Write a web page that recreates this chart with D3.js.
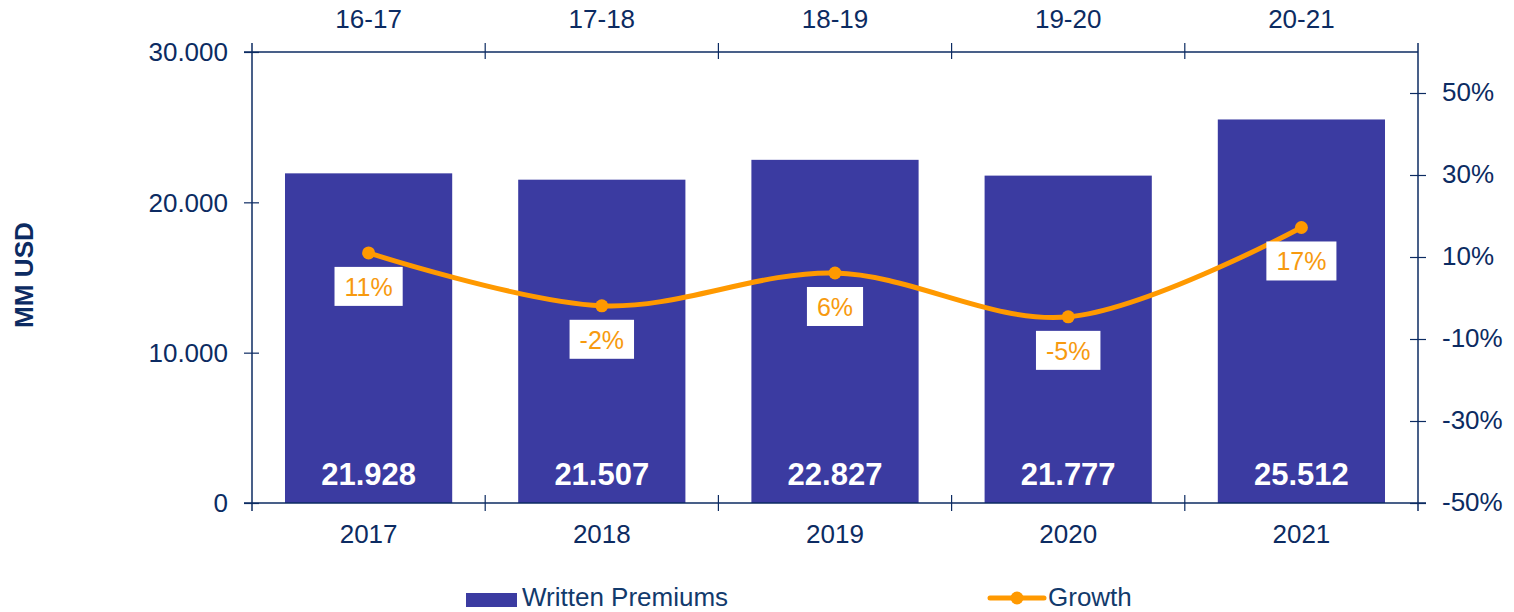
<!DOCTYPE html>
<html>
<head>
<meta charset="utf-8">
<script src="https://cdn.jsdelivr.net/npm/d3@7"></script>
<style>
  html, body { margin: 0; padding: 0; background: #fff; }
  svg { display: block; font-family: "Liberation Sans", Arial, sans-serif; }
</style>
</head>
<body>
<svg id="chart" width="1514" height="612"></svg>
<script>
// ---- data ----
const years = ["2017", "2018", "2019", "2020", "2021"];
const periods = ["16-17", "17-18", "18-19", "19-20", "20-21"];
const premiums = [21928, 21507, 22827, 21777, 25512];
const growth = [0.11, -0.019, 0.061, -0.046, 0.172];
const growthLabels = ["11%", "-2%", "6%", "-5%", "17%"];
const leftTicks = [0, 10000, 20000, 30000];
const rightTicks = [-0.5, -0.3, -0.1, 0.1, 0.3, 0.5];

// ---- styling ----
const navy = "#0c2b62";
const barColor = "#3b3ba1";
const orange = "#ff9900";
const labelOrange = "#f79a0f";

const svg = d3.select("#chart");
const L = 252, R = 1418, T = 52, B = 503;

const pad = 0.283;
const x = d3.scaleBand().domain(years).range([L, R]).paddingInner(pad).paddingOuter(pad / 2);
const xTop = d3.scaleBand().domain(periods).range([L, R]).paddingInner(pad).paddingOuter(pad / 2);
const y = d3.scaleLinear().domain([0, 30000]).range([B, T]);
const yR = d3.scaleLinear().domain([-0.5, 0.6]).range([B, T]);

const loc = d3.formatLocale({ decimal: ",", thousands: ".", grouping: [3], currency: ["", ""] });
const fmtThousands = loc.format(",");

// bars
svg.append("g").selectAll("rect").data(years).join("rect")
  .attr("x", d => x(d))
  .attr("y", (d, i) => y(premiums[i]))
  .attr("width", x.bandwidth())
  .attr("height", (d, i) => y(0) - y(premiums[i]))
  .attr("fill", barColor);

// bar value labels
svg.append("g").selectAll("text").data(years).join("text")
  .attr("x", d => x(d) + x.bandwidth() / 2)
  .attr("y", y(0) - 18)
  .attr("text-anchor", "middle")
  .attr("fill", "#fff")
  .attr("font-weight", "bold")
  .attr("font-size", 31)
  .text((d, i) => fmtThousands(premiums[i]));

// ---- axes ----
const axisStyle = g => {
  g.selectAll(".domain").remove();
  g.selectAll("line").attr("stroke", navy).attr("stroke-width", 1.2);
  g.selectAll("text").attr("fill", navy).attr("font-size", 26)
    .attr("font-family", "'Liberation Sans', Arial, sans-serif");
};

// frame lines
const frame = svg.append("g").attr("stroke", navy).attr("stroke-width", 1.5);
frame.append("line").attr("x1", L).attr("x2", L).attr("y1", T - 9).attr("y2", B + 8);
frame.append("line").attr("x1", R).attr("x2", R).attr("y1", T - 9).attr("y2", B + 8);
frame.append("line").attr("x1", L - 8).attr("x2", R).attr("y1", T).attr("y2", T);
frame.append("line").attr("x1", L - 8).attr("x2", R + 8).attr("y1", B).attr("y2", B);

// left axis
const gL = svg.append("g").attr("transform", `translate(${L},0)`)
  .call(d3.axisLeft(y).tickValues(leftTicks).tickFormat(fmtThousands).tickSize(8).tickPadding(16))
  .call(axisStyle);
gL.selectAll(".tick line").attr("x1", 7);
gL.selectAll(".tick text").attr("dy", "0.34em");

// right axis
const gR = svg.append("g").attr("transform", `translate(${R},0)`)
  .call(d3.axisRight(yR).tickValues(rightTicks).tickFormat(d => Math.round(d * 100) + "%").tickSize(8).tickPadding(16))
  .call(axisStyle);
gR.selectAll(".tick line").attr("x1", -8);
gR.selectAll(".tick text").attr("dy", "0.3em");

// bottom axis (labels only) + boundary ticks
const gB = svg.append("g").attr("transform", `translate(0,${B})`)
  .call(d3.axisBottom(x).tickSize(0).tickPadding(22))
  .call(axisStyle);
gB.selectAll(".tick text").attr("dy", "0.71em");

const gT = svg.append("g").attr("transform", `translate(0,${T})`)
  .call(d3.axisTop(xTop).tickSize(0).tickPadding(24))
  .call(axisStyle);

const bounds = years.slice(1).map(d => x(d) - x.step() * pad / 2);
const bt = svg.append("g").attr("stroke", navy).attr("stroke-width", 1.2);
bt.selectAll(".b").data(bounds).join("line")
  .attr("x1", d => d).attr("x2", d => d).attr("y1", B - 8).attr("y2", B + 8);
bt.selectAll(".t").data(bounds).join("line")
  .attr("x1", d => d).attr("x2", d => d).attr("y1", T - 9).attr("y2", T + 7);

// y title
svg.append("text")
  .attr("transform", "translate(33,275) rotate(-90)")
  .attr("text-anchor", "middle")
  .attr("fill", navy)
  .attr("font-weight", "bold")
  .attr("font-size", 25)
  .attr("textLength", 106)
  .attr("lengthAdjust", "spacingAndGlyphs")
  .text("MM USD");

// ---- growth line ----
const cx = i => x(years[i]) + x.bandwidth() / 2;
const line = d3.line().x((d, i) => cx(i)).y(d => yR(d)).curve(d3.curveCatmullRom.alpha(0.5));
svg.append("path").datum(growth)
  .attr("d", line)
  .attr("fill", "none")
  .attr("stroke", orange)
  .attr("stroke-width", 5)
  .attr("stroke-linecap", "round");
svg.append("g").selectAll("circle").data(growth).join("circle")
  .attr("cx", (d, i) => cx(i))
  .attr("cy", d => yR(d))
  .attr("r", 6.5)
  .attr("fill", orange);

// growth labels
const gl = svg.append("g").selectAll("g").data(growth).join("g");
gl.each(function (d, i) {
  const g = d3.select(this);
  const px = cx(i), py = yR(d);
  const rect = g.append("rect").attr("fill", "#fff");
  const t = g.append("text")
    .attr("x", px).attr("y", py + 14 + 29)
    .attr("text-anchor", "middle")
    .attr("fill", labelOrange)
    .attr("font-size", 25)
    .text(growthLabels[i]);
  const w = t.node().getComputedTextLength() + 20;
  rect.attr("x", px - w / 2).attr("y", py + 14).attr("width", w).attr("height", 39);
});

// ---- legend ----
const leg = svg.append("g");
leg.append("rect").attr("x", 466).attr("y", 593).attr("width", 51).attr("height", 14).attr("fill", barColor);
leg.append("text").attr("x", 522).attr("y", 606).attr("fill", "#123a6c").attr("font-size", 26).text("Written Premiums");
leg.append("line").attr("x1", 990).attr("x2", 1044).attr("y1", 598).attr("y2", 598)
  .attr("stroke", orange).attr("stroke-width", 5).attr("stroke-linecap", "round");
leg.append("circle").attr("cx", 1017).attr("cy", 598).attr("r", 6.5).attr("fill", orange);
leg.append("text").attr("x", 1048).attr("y", 606).attr("fill", "#123a6c").attr("font-size", 26).text("Growth");
</script>
</body>
</html>
